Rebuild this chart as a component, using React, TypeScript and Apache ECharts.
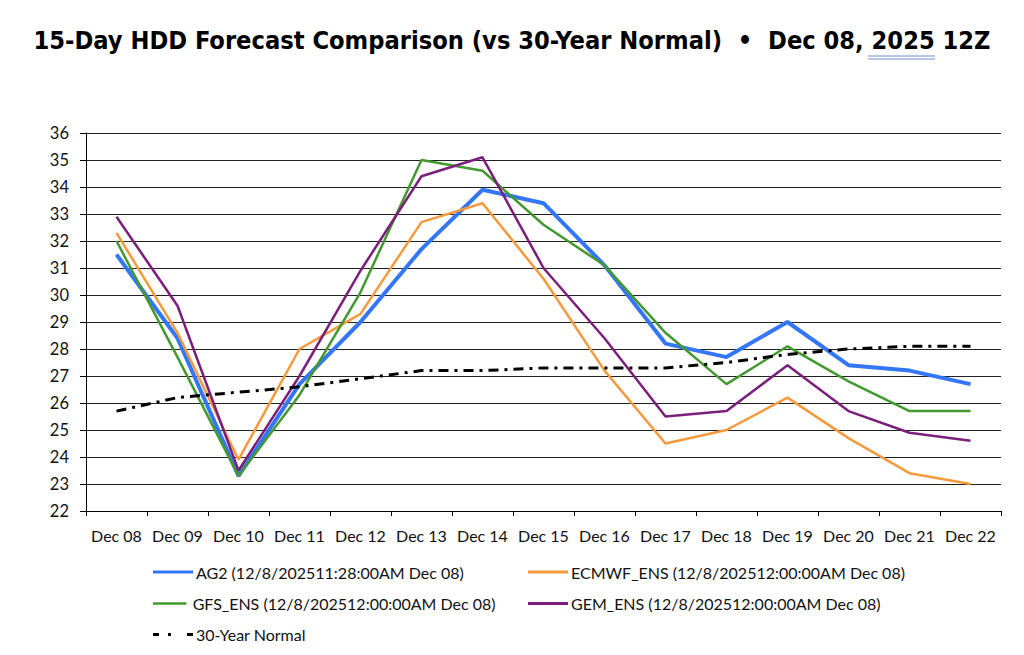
import React, { useEffect, useRef } from "react";
import * as echarts from "echarts";

const categories = ["Dec 08", "Dec 09", "Dec 10", "Dec 11", "Dec 12", "Dec 13", "Dec 14", "Dec 15", "Dec 16", "Dec 17", "Dec 18", "Dec 19", "Dec 20", "Dec 21", "Dec 22"];

const ag2 = [31.5, 28.4, 23.3, 26.7, 29.0, 31.7, 33.9, 33.4, 31.1, 28.2, 27.7, 29.0, 27.4, 27.2, 26.7];
const ecmwf = [32.3, 28.6, 23.9, 28.0, 29.3, 32.7, 33.4, 30.6, 27.2, 24.5, 25.0, 26.2, 24.7, 23.4, 23.0];
const gfs = [32.0, 27.7, 23.3, 26.3, 30.1, 35.0, 34.6, 32.6, 31.1, 28.6, 26.7, 28.1, 26.8, 25.7, 25.7];
const gem = [32.9, 29.6, 23.5, 27.0, 30.9, 34.4, 35.1, 31.0, 28.4, 25.5, 25.7, 27.4, 25.7, 24.9, 24.6];
const normal = [25.7, 26.2, 26.4, 26.6, 26.9, 27.2, 27.2, 27.3, 27.3, 27.3, 27.5, 27.8, 28.0, 28.1, 28.1];

const names = {
  ag2: "AG2 (12/8/202511:28:00AM Dec 08)",
  ecmwf: "ECMWF_ENS (12/8/202512:00:00AM Dec 08)",
  gfs: "GFS_ENS (12/8/202512:00:00AM Dec 08)",
  gem: "GEM_ENS (12/8/202512:00:00AM Dec 08)",
  normal: "30-Year Normal",
};

const titleText = "15-Day HDD Forecast Comparison (vs 30-Year Normal)  \u2022  Dec 08, 2025 12Z";

const FONT = "Lato";

const SOLID_ICON = "path://M0,0h40v3h-40z";
const DASHDOT_ICON = "path://M0,0h6v3h-6z M15,0h3v3h-3z M34,0h6v3h-6z";

export default function App() {
  const ref = useRef<HTMLDivElement>(null);
  useEffect(() => {
    if (!ref.current) return;
    const chart = echarts.init(ref.current, null, { renderer: "svg" });
    const mkLegend = (name: string, left: number, top: number, icon: string, color: string, h: number) => ({
      data: [{ name, icon, itemStyle: { color } }],
      left,
      top,
      padding: 0,
      orient: "horizontal",
      itemWidth: 40,
      itemHeight: h,
      selectedMode: false,
      textStyle: { fontFamily: FONT, fontSize: 16, color: "#111", padding: [0, 0, 0, -2] },
    });
    const line = (name: string, data: number[], color: string, width: number, dash?: any) => ({
      name,
      type: "line",
      data,
      symbol: "none",
      showSymbol: false,
      lineStyle: { color, width, type: dash || "solid" },
      itemStyle: { color },
    });
    chart.setOption({
      animation: false,
      backgroundColor: "#ffffff",
      title: {
        text: titleText,
        left: "center",
        top: 23,
        textStyle: { fontFamily: "DejaVu Sans Condensed", fontWeight: "bold", fontSize: 25.2, color: "#000" },
      },
      graphic: [
        { type: "line", shape: { x1: 868, y1: 56, x2: 935, y2: 56 }, style: { stroke: "#6f8fd8", lineWidth: 1 } },
        { type: "line", shape: { x1: 868, y1: 59, x2: 935, y2: 59 }, style: { stroke: "#6f8fd8", lineWidth: 1 } },
      ],
      grid: { left: 86, right: 23, top: 133, bottom: 144, containLabel: false },
      legend: [
        mkLegend(names.ag2, 153, 564, SOLID_ICON, "#3377f6", 3),
        mkLegend(names.ecmwf, 528, 564, SOLID_ICON, "#f49a3c", 3),
        mkLegend(names.gfs, 153, 595.5, SOLID_ICON, "#43992f", 2.5),
        mkLegend(names.gem, 528, 595.5, SOLID_ICON, "#7a1f7c", 3),
        mkLegend(names.normal, 153, 626.5, DASHDOT_ICON, "#000000", 3),
      ],
      xAxis: {
        type: "category",
        data: categories,
        boundaryGap: true,
        axisLine: { lineStyle: { color: "#000", width: 1 } },
        axisTick: { show: true, length: 5, lineStyle: { color: "#000" } },
        axisLabel: { fontFamily: FONT, fontSize: 16, color: "#111", margin: 16, interval: 0 },
      },
      yAxis: {
        type: "value",
        min: 22,
        max: 36,
        interval: 1,
        axisLine: { show: true, lineStyle: { color: "#000", width: 1 } },
        axisTick: { show: true, length: 6, lineStyle: { color: "#000" } },
        axisLabel: { fontFamily: FONT, fontSize: 16.5, color: "#111", margin: 17 },
        splitLine: { show: true, lineStyle: { color: "#222", width: 1.2 } },
      },
      series: [
        line(names.ag2, ag2, "#3377f6", 4),
        line(names.ecmwf, ecmwf, "#f49a3c", 2.5),
        line(names.gfs, gfs, "#43992f", 2.5),
        line(names.gem, gem, "#7a1f7c", 2.5),
        line(names.normal, normal, "#000000", 3, [10, 6, 3, 6]),
      ],
    });
    return () => chart.dispose();
  }, []);
  return <div ref={ref} style={{ position: "fixed", left: 0, top: 0, width: 1024, height: 655 }} />;
}
